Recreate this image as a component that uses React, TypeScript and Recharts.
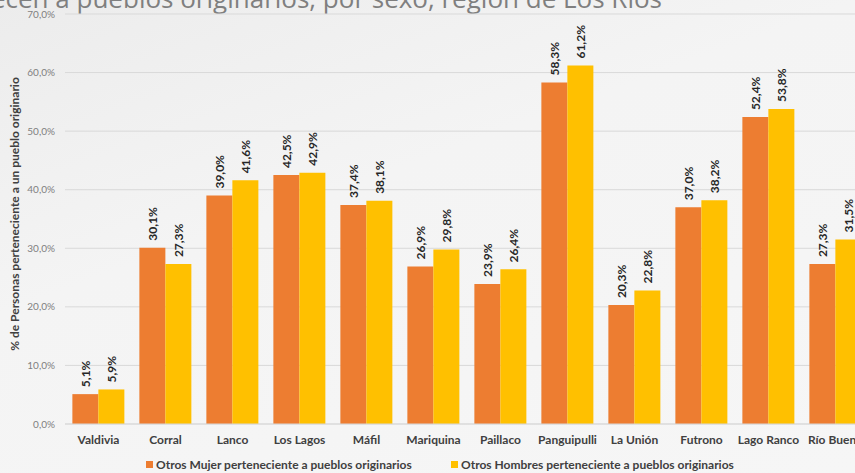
import { BarChart, Bar, XAxis, YAxis, CartesianGrid, LabelList } from "recharts";

const comunas = [
  "Valdivia",
  "Corral",
  "Lanco",
  "Los Lagos",
  "Máfil",
  "Mariquina",
  "Paillaco",
  "Panguipulli",
  "La Unión",
  "Futrono",
  "Lago Ranco",
  "Río Bueno",
];
const mujeres = [5.1, 30.1, 39.0, 42.5, 37.4, 26.9, 23.9, 58.3, 20.3, 37.0, 52.4, 27.3];
const hombres = [5.9, 27.3, 41.6, 42.9, 38.1, 29.8, 26.4, 61.2, 22.8, 38.2, 53.8, 31.5];
const yTicks = [0, 10, 20, 30, 40, 50, 60, 70];

const serieMujer = "Otros Mujer perteneciente a pueblos originarios";
const serieHombre = "Otros Hombres perteneciente a pueblos originarios";
const titulo = "Porcentaje de personas que pertenecen a pueblos originarios, por sexo, región de Los Ríos";

const ORANGE = "#ED7D31";
const YELLOW = "#FFC000";
const FONT = "Lato, 'Open Sans', sans-serif";

const data = comunas.map((c, i) => ({ name: c, mujer: mujeres[i], hombre: hombres[i] }));

const pct = (v: number) => `${v.toFixed(1).replace(".", ",")}%`;

function ValueLabel(props: any) {
  const { x, y, width, value } = props;
  const cx = x + width / 2;
  const ty = y - 7;
  return (
    <text
      x={cx}
      y={ty}
      transform={`rotate(-90, ${cx}, ${ty})`}
      textAnchor="start"
      dominantBaseline="central"
      fontFamily={FONT}
      fontSize={12}
      fontWeight={700}
      fill="#262626"
    >
      {pct(Number(value))}
    </text>
  );
}

export default function App() {
  return (
    <div
      style={{
        position: "absolute",
        left: 0,
        top: 0,
        width: 855,
        height: 473,
        overflow: "hidden",
        background: "linear-gradient(160deg, #ececec 0%, #f4f4f4 40%, #f6f6f6 100%)",
        fontFamily: FONT,
      }}
    >
      <svg width={855} height={30} style={{ position: "absolute", left: 0, top: 0 }}>
        <text x={662} y={8} textAnchor="end" fontFamily="'Open Sans', sans-serif" fontSize={26} fill="#7f7f7f">
          {titulo}
        </text>
      </svg>
      <div style={{ position: "absolute", left: 0, top: 0 }}>
        <BarChart
          width={880}
          height={473}
          data={data}
          margin={{ top: 14, right: 11, left: 0, bottom: 0 }}
          barCategoryGap="11%"
          barGap={0}
        >
          <CartesianGrid vertical={false} stroke="#d9d9d9" />
          <XAxis
            dataKey="name"
            height={49}
            tickLine={false}
            axisLine={{ stroke: "#d9d9d9" }}
            tickMargin={5}
            interval={0}
            tick={{ fontSize: 12, fontWeight: 700, fill: "#404040", fontFamily: FONT }}
          />
          <YAxis
            width={65}
            domain={[0, 70]}
            ticks={yTicks}
            tickFormatter={pct}
            axisLine={false}
            tickLine={false}
            tickMargin={4}
            tick={{ fontSize: 10, fill: "#7f7f7f", fontFamily: FONT }}
            label={{
              value: "% de Personas  perteneciente a un pueblo originario",
              angle: -90,
              position: "center",
              dx: -18,
              dy: -5,
              style: { fontSize: 12, fontWeight: 700, fill: "#404040", fontFamily: FONT, whiteSpace: "pre" },
            }}
          />
          <Bar dataKey="mujer" name={serieMujer} fill={ORANGE} isAnimationActive={false}>
            <LabelList dataKey="mujer" content={ValueLabel} />
          </Bar>
          <Bar dataKey="hombre" name={serieHombre} fill={YELLOW} isAnimationActive={false}>
            <LabelList dataKey="hombre" content={ValueLabel} />
          </Bar>
        </BarChart>
      </div>
      <div
        style={{
          position: "absolute",
          top: 457,
          left: 146,
          display: "flex",
          alignItems: "center",
          fontSize: 12,
          fontWeight: 700,
          color: "#404040",
          whiteSpace: "nowrap",
        }}
      >
        {[
          { name: serieMujer, color: ORANGE },
          { name: serieHombre, color: YELLOW },
        ].map((s, i) => (
          <div key={s.name} style={{ display: "flex", alignItems: "center", width: i === 0 ? 305 : "auto" }}>
            <span style={{ display: "inline-block", width: 7, height: 7, background: s.color, marginRight: 3 }} />
            <span>{s.name}</span>
          </div>
        ))}
      </div>
    </div>
  );
}
